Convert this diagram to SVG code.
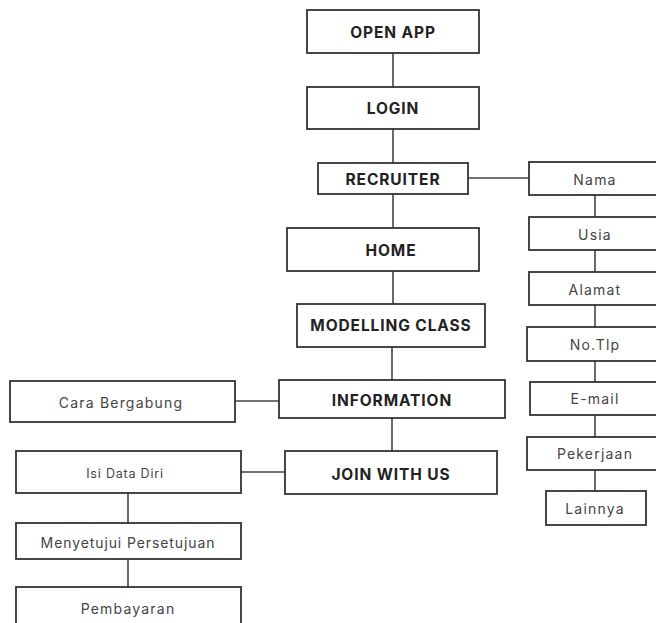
<svg xmlns="http://www.w3.org/2000/svg" width="656" height="623" viewBox="0 0 656 623">
<style>
rect{fill:#fff;stroke:#333;stroke-width:1.8}
.c line{stroke:#444;stroke-width:1.6}
text{font-family:Inter,"Noto Sans",sans-serif;text-anchor:middle;dominant-baseline:central}
.b{font-weight:700;font-size:15.5px;fill:#222;letter-spacing:0.9px}
.n{font-size:14px;fill:#444;letter-spacing:1.2px}
</style>
<rect x="0" y="0" width="656" height="623" style="fill:#fff;stroke:none"/>
<g class="c">
<line x1="393" y1="53" x2="393" y2="87"/>
<line x1="393" y1="129" x2="393" y2="163"/>
<line x1="393" y1="194" x2="393" y2="228"/>
<line x1="393" y1="271" x2="393" y2="304"/>
<line x1="392" y1="347" x2="392" y2="380"/>
<line x1="392" y1="418" x2="392" y2="451"/>
<line x1="468" y1="178" x2="529" y2="178"/>
<line x1="235" y1="401" x2="279" y2="401"/>
<line x1="241" y1="472" x2="285" y2="472"/>
<line x1="128" y1="493" x2="128" y2="523"/>
<line x1="128" y1="559" x2="128" y2="587"/>
<line x1="595" y1="195" x2="595" y2="217"/>
<line x1="595" y1="250" x2="595" y2="272"/>
<line x1="595" y1="305" x2="595" y2="327"/>
<line x1="595" y1="361" x2="595" y2="382"/>
<line x1="595" y1="415" x2="595" y2="437"/>
<line x1="595" y1="470" x2="595" y2="491"/>
</g>
<g id="openapp"><rect x="307" y="10" width="172" height="43"/><text class="b" x="393" y="32">OPEN APP</text></g>
<g id="login"><rect x="307" y="87" width="172" height="42"/><text class="b" x="393" y="108">LOGIN</text></g>
<g id="recruiter"><rect x="318" y="163" width="150" height="31"/><text class="b" x="393" y="179">RECRUITER</text></g>
<g id="home"><rect x="287" y="228" width="192" height="43"/><text class="b" x="391" y="250">HOME</text></g>
<g id="modelling"><rect x="297" y="304" width="188" height="43"/><text class="b" x="391" y="325">MODELLING CLASS</text></g>
<g id="information"><rect x="279" y="380" width="226" height="38"/><text class="b" x="392" y="400">INFORMATION</text></g>
<g id="join"><rect x="285" y="451" width="212" height="43"/><text class="b" x="391" y="474">JOIN WITH US</text></g>
<g id="cara"><rect x="10" y="381" width="225" height="41"/><text class="n" x="121" y="402">Cara Bergabung</text></g>
<g id="isi"><rect x="16" y="451" width="225" height="42"/><text class="n" x="125" y="473" style="font-size:12.5px;letter-spacing:0.8px">Isi Data Diri</text></g>
<g id="menyetujui"><rect x="16" y="523" width="225" height="36"/><text class="n" x="128" y="542" style="letter-spacing:0.9px">Menyetujui Persetujuan</text></g>
<g id="pembayaran"><rect x="16" y="587" width="225" height="45"/><text class="n" x="128" y="608">Pembayaran</text></g>
<g id="nama"><rect x="529" y="162" width="135" height="33"/><text class="n" x="595" y="179">Nama</text></g>
<g id="usia"><rect x="529" y="217" width="135" height="33"/><text class="n" x="595" y="234">Usia</text></g>
<g id="alamat"><rect x="529" y="272" width="135" height="33"/><text class="n" x="595" y="289">Alamat</text></g>
<g id="notlp"><rect x="527" y="327" width="137" height="34"/><text class="n" x="595" y="344">No.Tlp</text></g>
<g id="email"><rect x="530" y="382" width="134" height="33"/><text class="n" x="595" y="398">E-mail</text></g>
<g id="pekerjaan"><rect x="527" y="437" width="137" height="33"/><text class="n" x="595" y="453">Pekerjaan</text></g>
<g id="lainnya"><rect x="546" y="491" width="100" height="34"/><text class="n" x="595" y="508">Lainnya</text></g>
</svg>
